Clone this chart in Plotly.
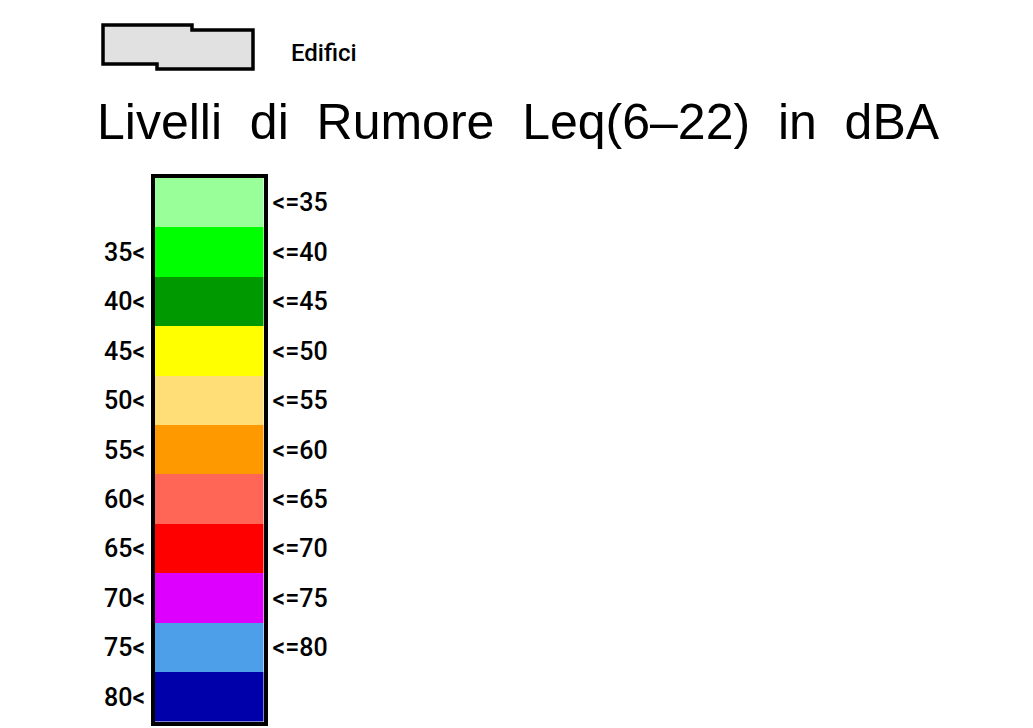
import plotly.graph_objects as go

# Noise classes, Leq(6-22) in dBA
band_low = [30, 35, 40, 45, 50, 55, 60, 65, 70, 75, 80]
band_high = [35, 40, 45, 50, 55, 60, 65, 70, 75, 80, 85]
left_labels = ["", "35<", "40<", "45<", "50<", "55<", "60<", "65<", "70<", "75<", "80<"]
right_labels = ["<=35", "<=40", "<=45", "<=50", "<=55", "<=60", "<=65", "<=70", "<=75", "<=80", ""]
colors = ["#99FF99", "#00FF00", "#009900", "#FFFF00", "#FFDD77", "#FF9900",
          "#FF6655", "#FF0000", "#DD00FF", "#4D9FEA", "#0000AA"]

W, H = 1033, 728
OFF = 8  # page body margin in the browser


def px(x):
    return (x - OFF) / W


def py(y):
    return 1 - (y - OFF) / H


label_font = dict(family="Roboto, Liberation Sans, Arial, sans-serif", size=25,
                  color="black", weight=500)

fig = go.Figure()
centers = []
for lo, hi, c in zip(band_low, band_high, colors):
    fig.add_trace(go.Bar(x=[0], y=[hi - lo], base=[lo], marker=dict(color=c, line=dict(width=0)),
                         width=1, showlegend=False, hoverinfo="skip"))
    centers.append((lo + hi) / 2)

fig.add_trace(go.Scatter(x=[0], y=[centers[0]], yaxis="y2", mode="markers",
                         marker=dict(opacity=0), showlegend=False, hoverinfo="skip"))

fig.update_layout(
    width=W, height=H,
    paper_bgcolor="white", plot_bgcolor="white",
    margin=dict(l=0, r=0, t=0, b=0),
    barmode="overlay", bargap=0,
    xaxis=dict(domain=[px(155), px(263.5)], range=[-0.5, 0.5], showticklabels=False,
               showgrid=False, zeroline=False, showline=True, mirror=True,
               linecolor="black", linewidth=3.5, ticks=""),
    yaxis=dict(domain=[py(721.5), py(178)], range=[85, 30], tickmode="array",
               tickvals=centers, ticktext=left_labels, tickfont=label_font,
               showgrid=False, zeroline=False, showline=True, mirror=True,
               linecolor="black", linewidth=3.5, ticks="", ticklabelstandoff=1),
    yaxis2=dict(overlaying="y", side="right", range=[85, 30], tickmode="array",
                tickvals=centers, ticktext=right_labels, tickfont=label_font,
                showgrid=False, zeroline=False, showline=False, ticks="",
                ticklabelstandoff=8),
)

# Building symbol for the legend
pts = [(103, 25), (192, 25), (192, 30), (253, 30), (253, 69), (157, 69), (157, 64), (103, 64)]
path = "M " + " L ".join(f"{px(x):.5f} {py(y):.5f}" for x, y in pts) + " Z"
fig.add_shape(type="path", path=path, xref="paper", yref="paper",
              line=dict(color="black", width=3.5), fillcolor="#E1E1E1", layer="above")

fig.add_annotation(text="Edifici", x=px(289), y=py(53), xref="paper", yref="paper",
                   xanchor="left", yanchor="middle", showarrow=False,
                   font=dict(family="Roboto, Liberation Sans, Arial, sans-serif", size=24,
                             color="black", weight=500))

sp = "\u00a0\u00a0"
fig.add_annotation(text=f"Livelli{sp}di{sp}Rumore{sp}Leq(6\u201322){sp}in{sp}dBA",
                   x=px(95), y=py(122), xref="paper", yref="paper",
                   xanchor="left", yanchor="middle", showarrow=False,
                   font=dict(family="Liberation Sans, Arial, sans-serif", size=50, color="black"))

fig.write_html("out.html")
